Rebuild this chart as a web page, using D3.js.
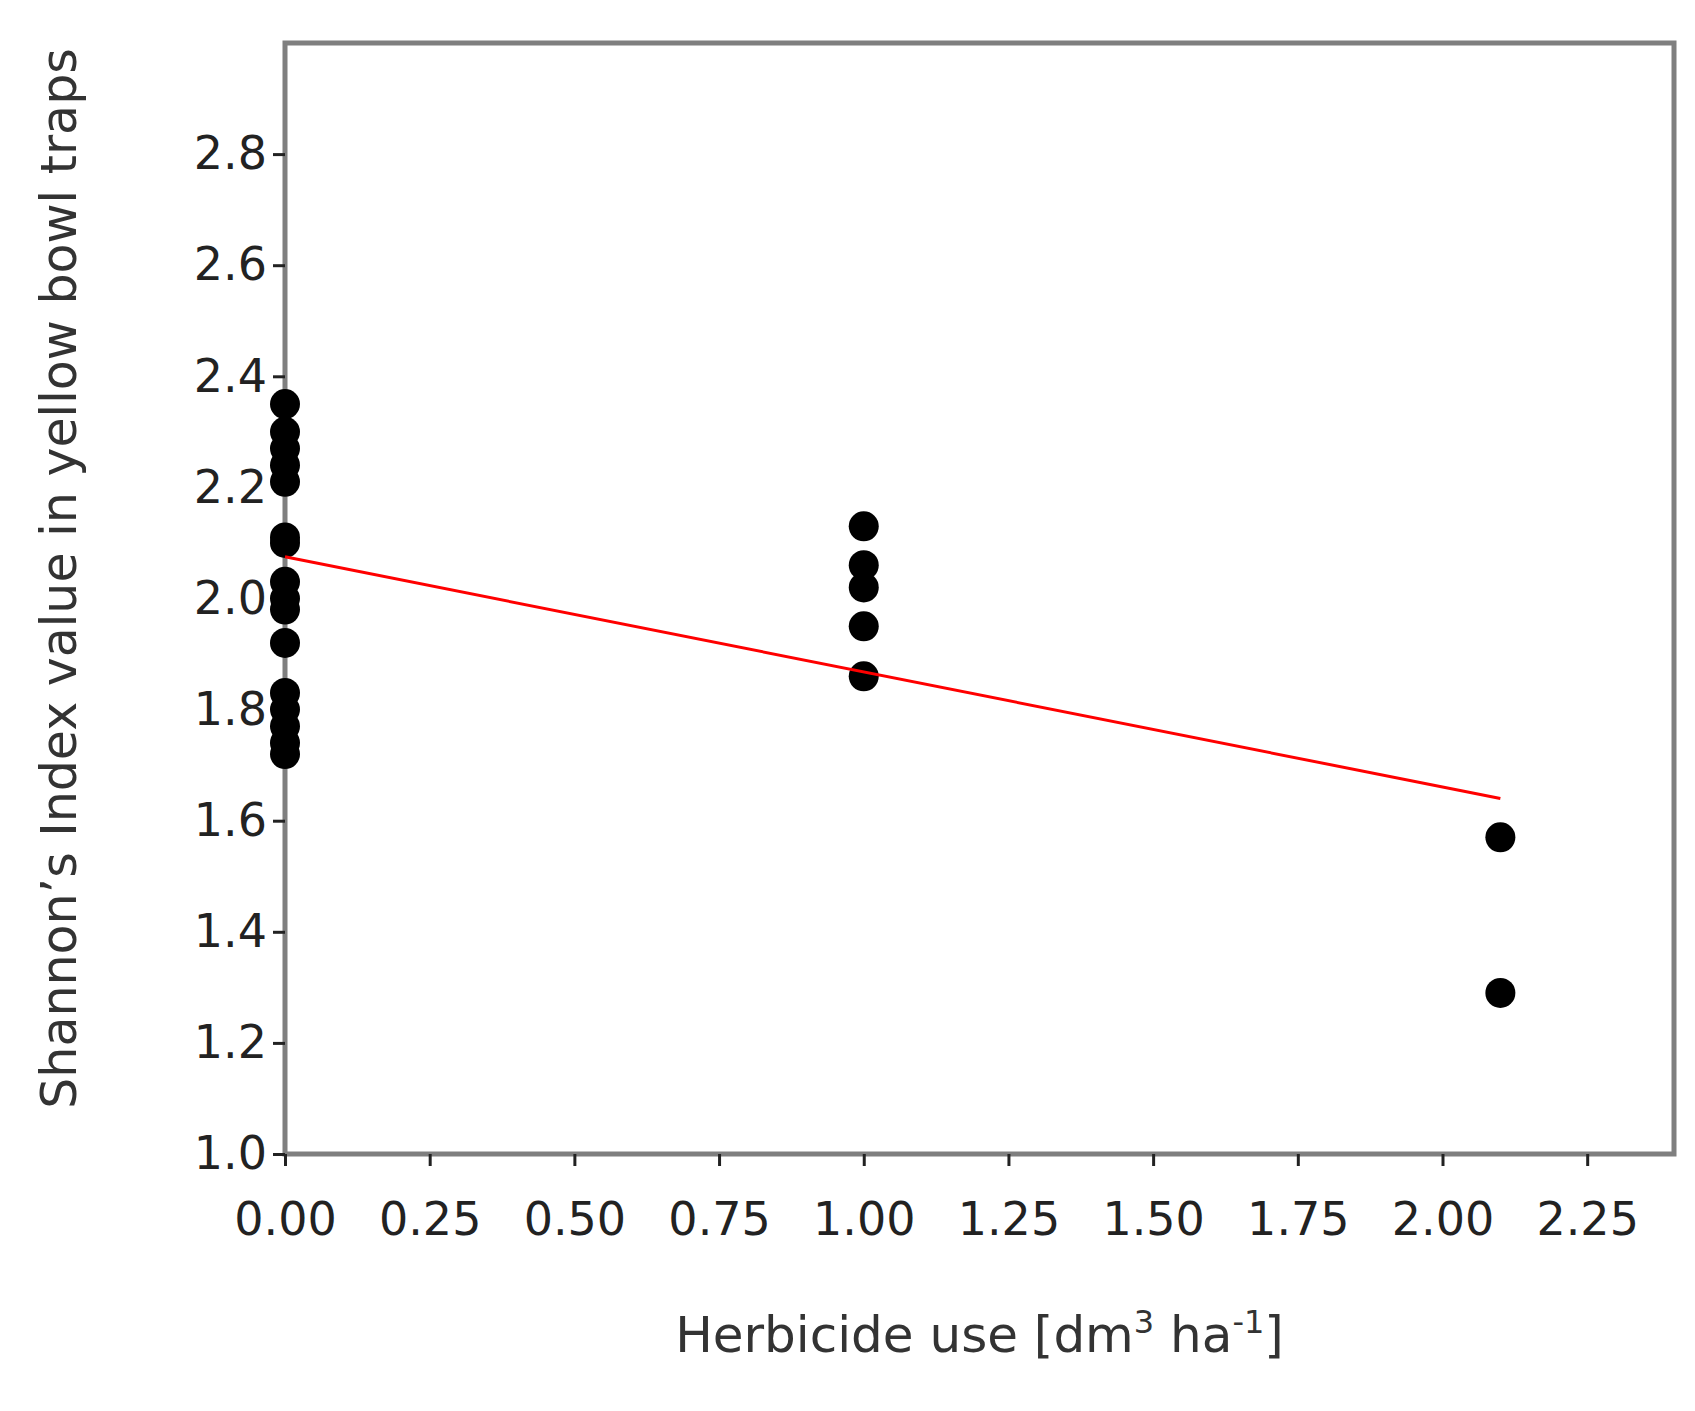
<!DOCTYPE html><html><head><meta charset="utf-8"><script src="https://cdn.jsdelivr.net/npm/d3@7"></script>
<style>body{margin:0;background:#fff}</style></head><body><script>
const xTicks=[0,0.25,0.5,0.75,1,1.25,1.5,1.75,2,2.25];
const yTicks=[1.0,1.2,1.4,1.6,1.8,2.0,2.2,2.4,2.6,2.8];
const xs=[0,0,0,0,0,0,0,0,0,0,0,0,0,0,0,0,1,1,1,1,1,2.1,2.1];
const ys=[2.35,2.30,2.27,2.24,2.21,2.11,2.10,2.03,2.00,1.98,1.92,1.83,1.80,1.77,1.74,1.72,2.13,2.06,2.02,1.95,1.86,1.57,1.29];
const fitX=[0,2.1], fitY=[2.075,1.64];
const W=1695,H=1411,L=285,R=1674,T=43,B=1154;
const svg=d3.select("body").append("svg").attr("width",W).attr("height",H);
const x=d3.scaleLinear().domain([0,2.4]).range([L,R]);
const y=d3.scaleLinear().domain([1,3]).range([B,T]);
const font="DejaVu Sans";
svg.append("rect").attr("x",L).attr("y",T).attr("width",R-L).attr("height",B-T).attr("fill","none").attr("stroke","#7f7f7f").attr("stroke-width",5);
const ya=svg.append("g").attr("transform",`translate(${L},0)`).call(d3.axisLeft(y).tickValues(yTicks).tickFormat(d3.format(".1f")).tickSize(12).tickPadding(6));
const xa=svg.append("g").attr("transform",`translate(0,${B})`).call(d3.axisBottom(x).tickValues(xTicks).tickFormat(d3.format(".2f")).tickSize(12).tickPadding(36));
[ya,xa].forEach(g=>{g.select(".domain").remove();g.selectAll("line").attr("stroke","#222").attr("stroke-width",3);
 g.selectAll("text").attr("font-family",font).attr("font-size",46).attr("fill","#222");});
svg.append("g").selectAll("circle").data(xs).join("circle").attr("cx",d=>x(d)).attr("cy",(d,i)=>y(ys[i])).attr("r",15).attr("fill","#000");
svg.append("line").attr("x1",x(fitX[0])).attr("y1",y(fitY[0])).attr("x2",x(fitX[1])).attr("y2",y(fitY[1])).attr("stroke","#ff0000").attr("stroke-width",3);
svg.append("text").attr("x",(L+R)/2).attr("y",1352).attr("text-anchor","middle").attr("font-family",font).attr("font-size",50).attr("fill","#333")
 .html('Herbicide use [dm<tspan baseline-shift="super" font-size="32">3</tspan> ha<tspan baseline-shift="super" font-size="32">-1</tspan>]');
svg.append("text").attr("transform",`translate(76,${(T+B)/2-20}) rotate(-90)`).attr("text-anchor","middle").attr("font-family",font).attr("font-size",49).attr("fill","#333").text("Shannon’s Index value in yellow bowl traps");
</script></body></html>
